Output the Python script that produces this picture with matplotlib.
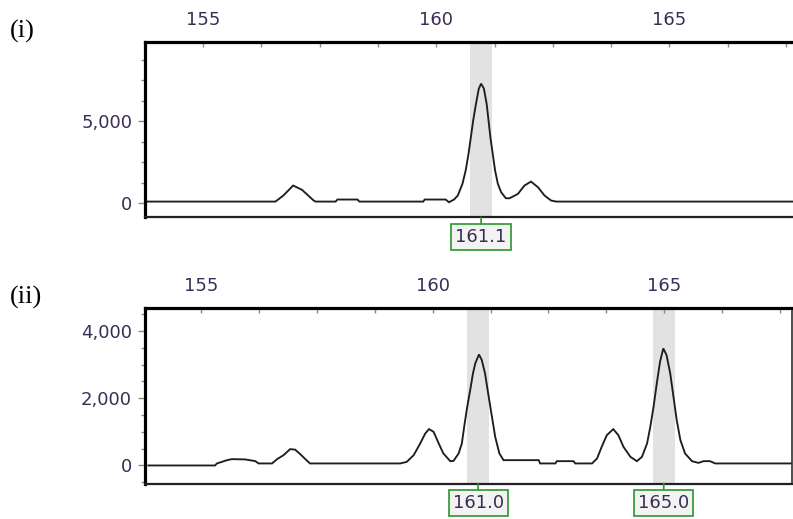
import matplotlib
matplotlib.use("Agg")
import matplotlib.pyplot as plt
import matplotlib.transforms as mtransforms
from matplotlib.ticker import MultipleLocator, FixedLocator, FuncFormatter

# ---- panel (i): electropherogram trace (size in bp, signal in RFU) ----
size_i = [153.75, 156.55, 156.72, 156.93, 157.12, 157.37, 157.41, 157.84, 157.88,
          158.31, 158.35, 159.72, 159.75, 160.20, 160.27, 160.38, 160.46, 160.56,
          160.63, 160.69, 160.74, 160.79, 160.85, 160.91, 160.96, 161.02, 161.08,
          161.12, 161.16, 161.21, 161.26, 161.32, 161.39, 161.49, 161.57, 161.75,
          161.89, 162.03, 162.18, 162.32, 162.46, 162.57, 167.70]
rfu_i = [100, 100, 470, 1080, 816, 165, 100, 100, 225,
         225, 100, 100, 225, 225, 60, 225, 470, 1180,
         2000, 3010, 4020, 5040, 6060, 6980, 7300, 7000, 6060,
         5040, 4020, 3010, 2000, 1180, 670, 305, 300, 570,
         1080, 1320, 975, 470, 165, 100, 100]
bins_i = [160.96]
calls_i = ["161.1"]

# ---- panel (ii) ----
size_ii = [153.86, 155.30, 155.34, 155.56, 155.66, 155.95, 156.17, 156.24, 156.53,
           156.64, 156.78, 156.92, 157.03, 157.14, 157.25, 157.35, 159.30, 159.44,
           159.59, 159.73, 159.84, 159.92, 160.02, 160.13, 160.23, 160.38, 160.45,
           160.56, 160.63, 160.68, 160.74, 160.81, 160.87, 160.92, 161.00, 161.06,
           161.13, 161.21, 161.28, 161.35, 161.44, 161.53, 162.29, 162.32, 162.65,
           162.68, 163.04, 163.08, 163.44, 163.55, 163.65, 163.76, 163.90, 164.01,
           164.12, 164.27, 164.41, 164.52, 164.63, 164.70, 164.77, 164.84, 164.91,
           164.98, 165.05, 165.13, 165.20, 165.27, 165.35, 165.45, 165.60, 165.74,
           165.85, 165.99, 166.10, 167.76]
rfu_ii = [0, 0, 60, 158, 188, 180, 128, 60, 60,
          188, 307, 485, 470, 336, 188, 60, 60, 107,
          307, 655, 952, 1080, 1000, 655, 357, 128, 137,
          357, 655, 1150, 1696, 2240, 2738, 3036, 3300, 3135,
          2738, 2042, 1446, 851, 357, 158, 158, 60, 60,
          128, 128, 60, 60, 208, 555, 900, 1080, 900,
          555, 257, 128, 257, 655, 1150, 1745, 2440, 3083,
          3480, 3283, 2738, 2042, 1348, 753, 357, 128, 77,
          128, 128, 60, 60]
bins_ii = [160.98, 164.99]
calls_ii = ["161.0", "165.0"]

W, H = 793, 519
fig = plt.figure(figsize=(W / 100, H / 100), dpi=100)

TXT = "#3b2d55"
BIN_HALF = 0.235


def px_axes(left, top, right, bottom):
    return [left / W, 1 - bottom / H, (right - left) / W, (bottom - top) / H]


def thousands(v, _):
    return f"{int(round(v)):,}"


def panel(rect, xlim, ylim, size, rfu, bins, calls, major_y, minor_y, right_spine):
    ax = fig.add_axes(rect)
    ax.set_xlim(*xlim)
    ax.set_ylim(*ylim)

    for c in bins:
        ax.axvspan(c - BIN_HALF, c + BIN_HALF, color="#e2e2e2", lw=0, zorder=0)

    ax.plot(size, rfu, color="#1e1e1e", lw=1.35, solid_joinstyle="miter", zorder=2)

    # frame
    ax.spines["left"].set_linewidth(2.3)
    ax.spines["top"].set_linewidth(2.3)
    ax.spines["bottom"].set_linewidth(1.6)
    ax.spines["bottom"].set_color("#202020")
    if right_spine:
        ax.spines["right"].set_linewidth(1.2)
        ax.spines["right"].set_color("#303030")
    else:
        ax.spines["right"].set_visible(False)

    # size axis on top
    ax.xaxis.set_ticks_position("top")
    ax.xaxis.set_label_position("top")
    ax.xaxis.set_major_locator(MultipleLocator(5))
    ax.xaxis.set_minor_locator(MultipleLocator(1.25))
    ax.tick_params(axis="x", which="both", direction="in", length=3.6, width=1,
                   color="#8a8a8a", pad=9, labelsize=13, labelcolor=TXT)

    # signal axis
    ax.yaxis.set_major_locator(FixedLocator(major_y))
    ax.yaxis.set_minor_locator(MultipleLocator(minor_y))
    ax.yaxis.set_major_formatter(FuncFormatter(thousands))
    ax.tick_params(axis="y", which="major", direction="out", length=5.4, width=1,
                   color="#8a8a8a", pad=3.6, labelsize=13, labelcolor=TXT)
    ax.tick_params(axis="y", which="minor", direction="out", length=3.0, width=1,
                   color="#8a8a8a")

    # allele call labels under the trace
    trans = mtransforms.blended_transform_factory(ax.transData, ax.transAxes)
    for c, txt in zip(bins, calls):
        ax.annotate(txt, xy=(c, 0), xycoords=trans,
                    xytext=(0, -7.5), textcoords="offset points",
                    ha="center", va="top", fontsize=13, color=TXT,
                    annotation_clip=False,
                    bbox=dict(boxstyle="square,pad=0.22", fc="#f3f3f3",
                              ec="#2a962a", lw=1.2),
                    arrowprops=dict(arrowstyle="-", color="#2a962a", lw=1.2,
                                    shrinkA=0, shrinkB=0))
    return ax


panel(px_axes(145, 41.7, 794, 217.5), (153.753, 167.67), (-872, 9860),
      size_i, rfu_i, bins_i, calls_i, [0, 5000], 1250, right_spine=False)
panel(px_axes(144.5, 307.7, 792, 483.5), (153.776, 167.76), (-536, 4690),
      size_ii, rfu_ii, bins_ii, calls_ii, [0, 2000, 4000], 500, right_spine=True)

fig.text(10 / W, 1 - 31 / H, "(i)", family="Liberation Serif", fontsize=19,
         va="center", ha="left", color="black")
fig.text(10 / W, 1 - 297 / H, "(ii)", family="Liberation Serif", fontsize=19,
         va="center", ha="left", color="black")

fig.savefig("out.png", dpi=100)
